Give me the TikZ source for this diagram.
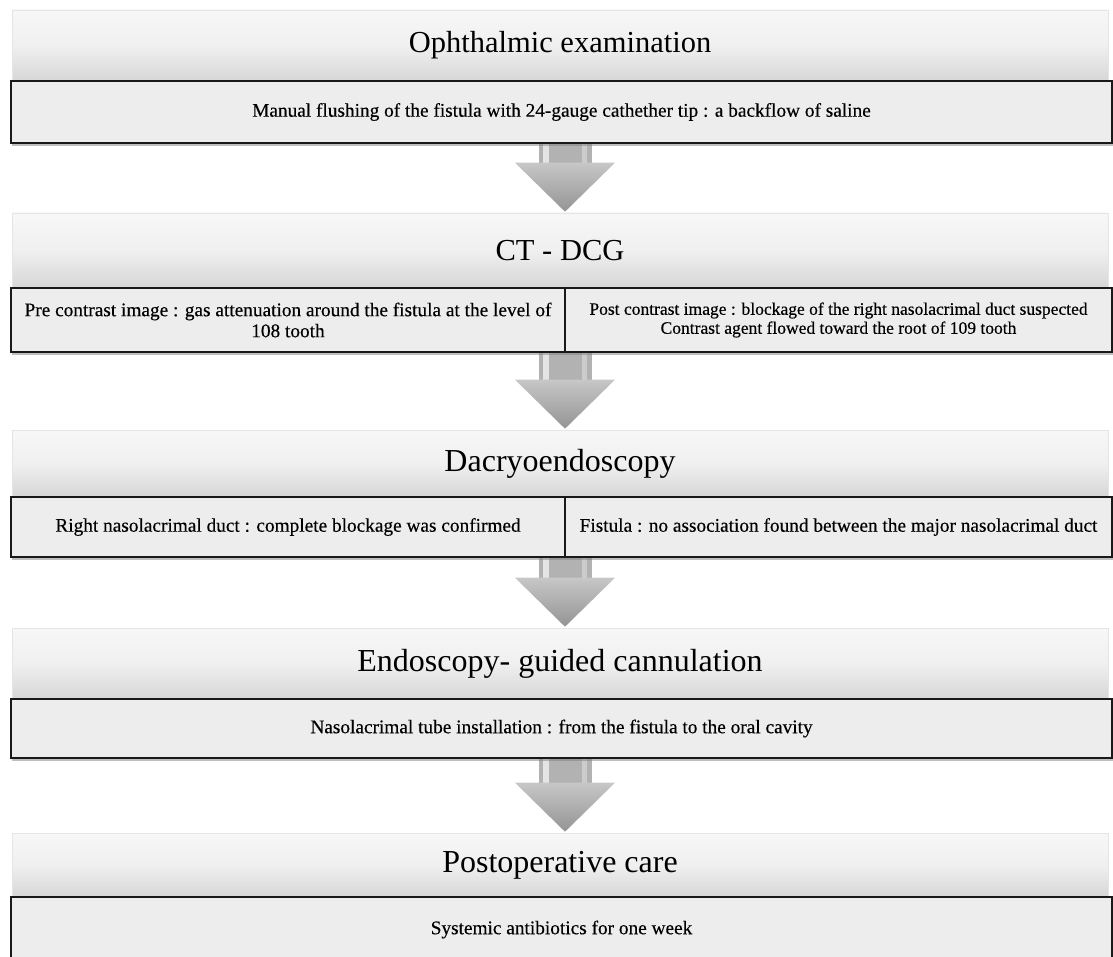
\documentclass[tikz,border=0pt]{standalone}
\usepackage{fontspec}
\setmainfont{Liberation Serif}
\newfontfamily\detfont{Liberation Serif}[FakeBold=0.35]
\usetikzlibrary{calc,shadows,backgrounds}

\tikzset{
  hdr/.style={rectangle, draw=black!10, line width=0.6pt,
    top color=white!97!black, bottom color=black!16, middle color=black!6,
    inner sep=0pt, text=black, minimum width=1096pt,
    font=\fontsize{30.5}{36}\selectfont,
    drop shadow={shadow xshift=0pt, shadow yshift=-1.5pt, opacity=.12}},
  hdrbig/.style={hdr, font=\fontsize{32}{38}\selectfont},
  det/.style={rectangle, draw=black!90, line width=1.6pt, fill=black!7,
    inner sep=0pt, text=black, align=center,
    font=\detfont\fontsize{19.3}{21}\selectfont,
    drop shadow={shadow xshift=0.5pt, shadow yshift=-3pt, opacity=.5}},
  detsmall/.style={det, font=\detfont\fontsize{17.5}{19}\selectfont},
  shaftfill/.style={fill=black!30},
  headfill/.style={top color=black!22, bottom color=black!42},
}

\newcommand{\blockarrow}[2]{%
  \fill[shaftfill] let \p1=(#1.south), \p2=(#2.north) in
    (539pt,\y1+5pt) rectangle (592pt,\y2+50pt);
  \fill[white, opacity=.65] let \p1=(#1.south), \p2=(#2.north) in
    (543pt,\y1+5pt) rectangle (549pt,\y2+50pt);
  \fill[white, opacity=.35] let \p1=(#1.south), \p2=(#2.north) in
    (582pt,\y1+5pt) rectangle (587pt,\y2+50pt);
  \shade[headfill] let \p1=(#1.south), \p2=(#2.north) in
    (515pt,\y2+50pt) -- (615pt,\y2+50pt) -- (565pt,\y2+1pt) -- cycle;
}

\begin{document}
\begin{tikzpicture}[x=1pt,y=-1pt]
\useasboundingbox (0,0) rectangle (1113,957);

% block 1
\node[hdr, minimum height=71pt] (h1) at (560,45.5) {Ophthalmic examination};
\node[det, minimum width=1101pt, minimum height=62pt] (d1) at (561.5,112)
  {Manual flushing of the fistula with 24-gauge cathether tip : a backflow of saline};

% block 2
\node[hdr, minimum height=75pt] (h2) at (560,250.5) {CT - DCG};
\node[det, minimum width=554pt, minimum height=64pt] (d2a) at (288,320)
  {Pre contrast image : gas attenuation around the fistula at the level of\\108 tooth};
\node[detsmall, minimum width=547pt, minimum height=64pt] (d2b) at (838.5,320)
  {Post contrast image : blockage of the right nasolacrimal duct suspected\\Contrast agent flowed toward the root of 109 tooth};

% block 3
\node[hdrbig, minimum height=67pt] (h3) at (560,463.5) {Dacryoendoscopy};
\node[det, minimum width=554pt, minimum height=60pt] (d3a) at (288,527)
  {Right nasolacrimal duct : complete blockage was confirmed};
\node[det, minimum width=547pt, minimum height=60pt] (d3b) at (838.5,527)
  {Fistula : no association found between the major nasolacrimal duct};

% block 4
\node[hdrbig, minimum height=71pt] (h4) at (560,663.5) {Endoscopy- guided cannulation};
\node[det, minimum width=1101pt, minimum height=59pt] (d4) at (561.5,728.5)
  {Nasolacrimal tube installation : from the fistula to the oral cavity};

% block 5
\node[hdrbig, minimum height=64pt] (h5) at (560,865) {Postoperative care};
\node[det, minimum width=1101pt, minimum height=65pt] (d5) at (561.5,929.5)
  {Systemic antibiotics for one week};

% arrows
\begin{pgfonlayer}{background}
  \blockarrow{d1}{h2}
  \blockarrow{d2a}{h3}
  \blockarrow{d3a}{h4}
  \blockarrow{d4}{h5}
\end{pgfonlayer}
\end{tikzpicture}
\end{document}
